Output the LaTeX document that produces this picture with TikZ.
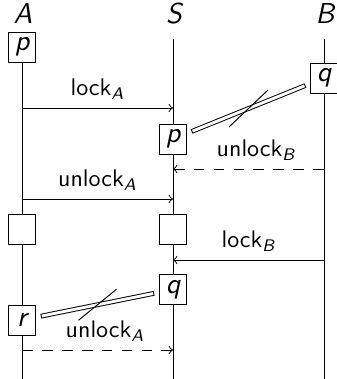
\documentclass[tikz,border=0pt]{standalone}
\usepackage{amsmath}
\usetikzlibrary{calc}
\newcommand\mysub[1]{$_{\text{\sffamily\slshape #1}}$}
\begin{document}
\begin{tikzpicture}[x=0.41667pt,y=-0.41667pt,
  every node/.style={font=\sffamily},
  head/.style={font=\sffamily\slshape\large, inner sep=1pt},
  box/.style={draw, fill=white, minimum width=11.25pt, minimum height=12.5pt, inner sep=0pt, font=\sffamily\slshape\large},
  msg/.style={->},
  dmsg/.style={->, dash pattern=on 4.5pt off 3.8pt},
  lbl/.style={above},
  dblout/.style={line width=2pt, shorten <=2.08pt, shorten >=2.08pt},
  dblin/.style={draw=white, line width=1.2pt, shorten <=2.5pt, shorten >=2.5pt}
]
\useasboundingbox (0,0) rectangle (337,379);
% headers
\node[head] (A) at (23,14) {A};
\node[head] (S) at (174,14) {S};
\node[head] (B) at (325,14) {B};
% lifelines
\coordinate (Atop) at (22,47);
\coordinate (Aend) at (22,379);
\coordinate (Stop) at (173,39);
\coordinate (Send) at (173,379);
\coordinate (Btop) at (324,39);
\coordinate (Bend) at (324,379);
\draw (Atop) -- (Aend);
\draw (Stop) -- (Send);
\draw (Btop) -- (Bend);
% boxes
\node[box] (pA) at (22,47) {p};
\node[box] (qB) at (324,78) {q};
\node[box] (pS) at (173,139) {p};
\node[box] (eA) at (22,229.5) {};
\node[box] (eS) at (173,229.5) {};
\node[box] (qS) at (173,289.5) {q};
\node[box] (rA) at (22,320) {r};
% messages
\coordinate (a1) at (22,108);  \coordinate (s1) at (173,108);
\draw[msg] (a1) -- node[lbl] {lock\mysub{A}} (s1);
\coordinate (b2) at (324,169); \coordinate (s2) at (173,169);
\draw[dmsg] (b2) -- node[lbl,pos=0.45] {unlock\mysub{B}} (s2);
\coordinate (a3) at (22,199);  \coordinate (s3) at (173,199);
\draw[msg] (a3) -- node[lbl] {unlock\mysub{A}} (s3);
\coordinate (b4) at (324,260); \coordinate (s4) at (173,260);
\draw[msg] (b4) -- node[lbl] {lock\mysub{B}} (s4);
\coordinate (a5) at (22,350);  \coordinate (s5) at (173,350);
\draw[dmsg] (a5) -- node[lbl,pos=0.55] {unlock\mysub{A}} (s5);
% cancelled links
\draw[dblout] (pS) -- (qB);
\draw[dblin] (pS) -- (qB);
\coordinate (m1) at ($(pS)!0.5!(qB)$);
\draw ($(m1)+(-19.5,18.5)$) -- ($(m1)+(19.5,-18.5)$);
\draw[dblout] (qS) -- (rA);
\draw[dblin] (qS) -- (rA);
\coordinate (m2) at ($(qS)!0.5!(rA)$);
\draw ($(m2)+(-19,15.5)$) -- ($(m2)+(19,-15.5)$);
\end{tikzpicture}
\end{document}
